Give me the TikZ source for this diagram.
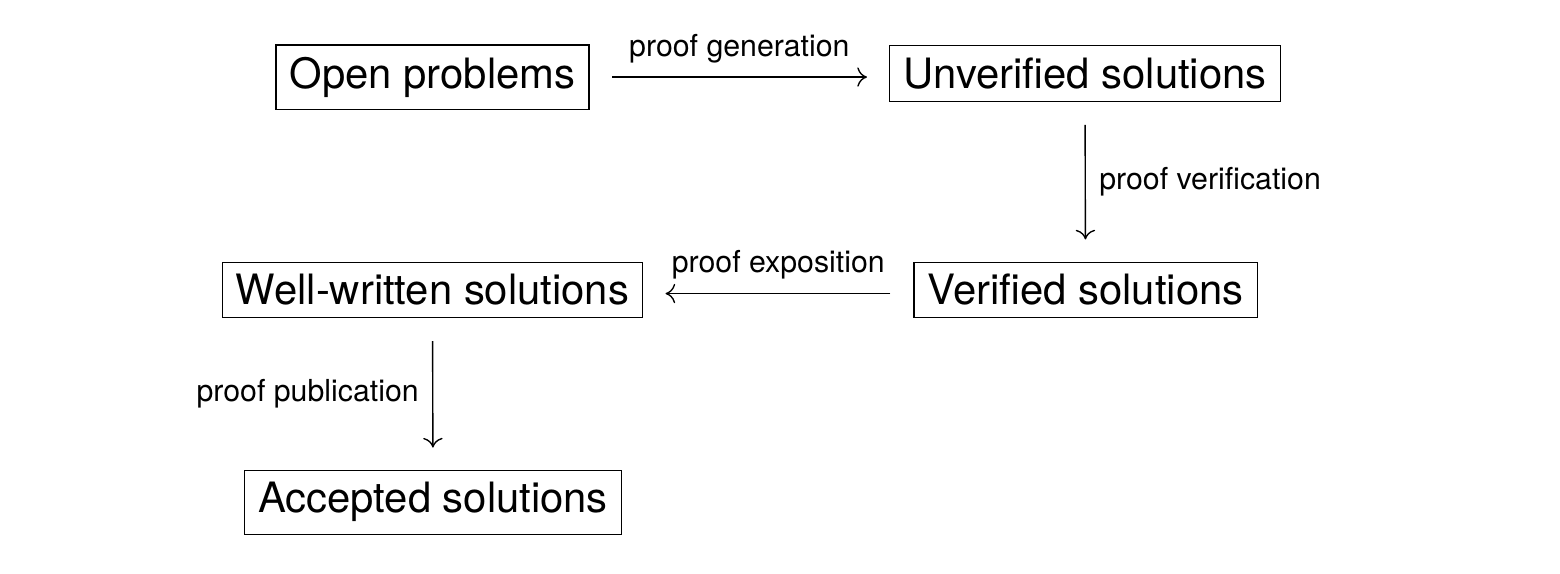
\documentclass[tikz,border=0pt]{standalone}
\usepackage{fontspec}
\setmainfont{TeX Gyre Heros}
\usepackage{tikz}
\usetikzlibrary{arrows.meta,positioning,calc}

\begin{document}
\begin{tikzpicture}[x=0.33pt, y=-0.33pt,
  stagebox/.style={draw, line width=0.45pt, inner xsep=4.5pt, inner ysep=4pt,
    anchor=base, font=\fontsize{13.8}{16}\selectfont},
  flow/.style={-{Computer Modern Rightarrow[width=6.4pt, length=3.2pt]},
    line width=0.45pt, shorten <=7.5pt, shorten >=7.3pt},
  flowlabel/.style={font=\fontsize{10}{12}\selectfont, inner sep=4.4pt}]

  \useasboundingbox (0,0) rectangle (1560,574);

  %% Stages
  \node[stagebox] (open)  at (432.5,88.5) {Open problems};
  \node[stagebox] (unver) at (1085,88.5)  {Unverified solutions};
  \node[stagebox] (ver)   at (1085.5,305) {Verified solutions};
  \node[stagebox] (well)  at (432.5,305)  {Well-written solutions};
  \node[stagebox] (acc)   at (433,513)    {Accepted solutions};

  %% Steps between stages
  \draw[flow] ([yshift=1.15pt]open.mid east) -- node[flowlabel, above] {proof generation}
    ([yshift=1.15pt]unver.mid west);
  \draw[flow] (unver.south) -- node[flowlabel, right] {proof verification} (ver.north);
  \draw[flow] ([yshift=1.15pt]ver.mid west) -- node[flowlabel, above] {proof exposition}
    ([yshift=1.15pt]well.mid east);
  \draw[flow] (well.south) -- node[flowlabel, left] {proof publication} (acc.north);

\end{tikzpicture}
\end{document}
